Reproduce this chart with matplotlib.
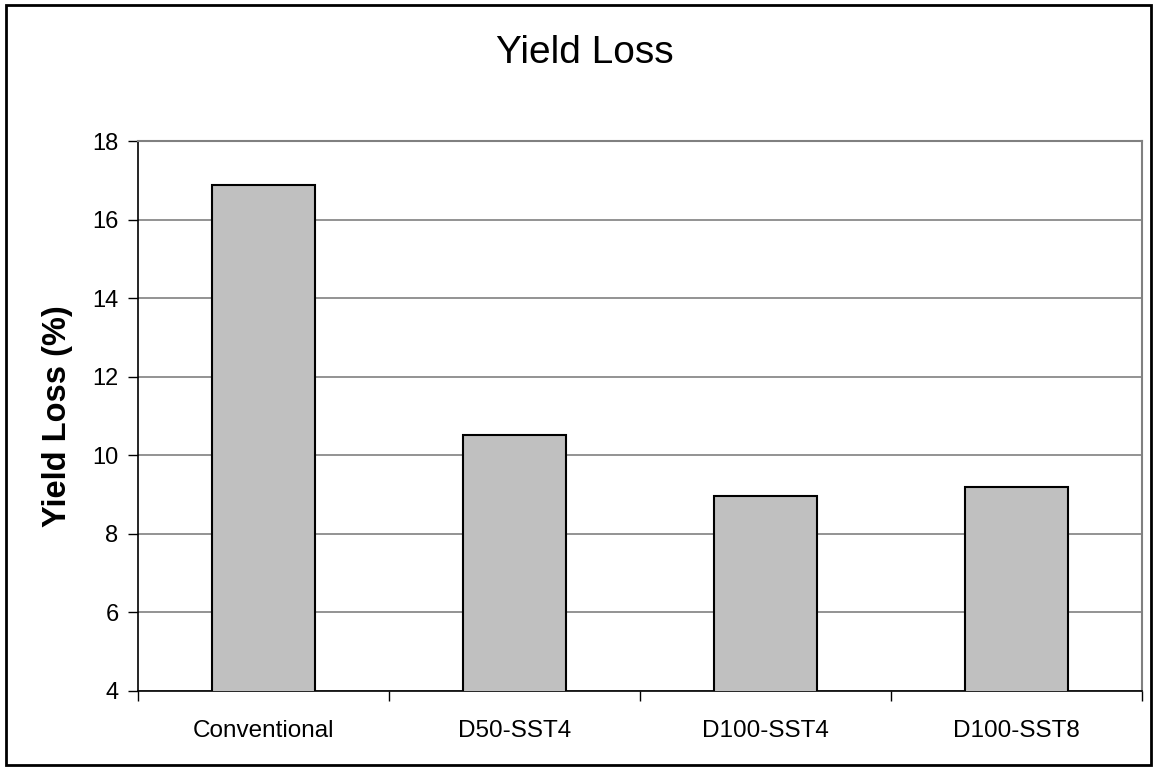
import matplotlib.pyplot as plt
from matplotlib.patches import Rectangle

# Datos
categorias = ["Conventional", "D50-SST4", "D100-SST4", "D100-SST8"]
perdida = [16.87, 10.51, 8.97, 9.18]
ticks_y = [4, 6, 8, 10, 12, 14, 16, 18]

plt.rcParams['font.family'] = ['Liberation Sans', 'DejaVu Sans']

fig = plt.figure(figsize=(11.53, 7.68), dpi=100)
ax = fig.add_axes([0.1197, 0.1003, 0.8708, 0.7161])

x = range(len(categorias))
ax.bar(x, perdida, width=0.41, color='#C0C0C0', edgecolor='black', linewidth=1.5, zorder=3)

ax.set_xlim(-0.5, len(categorias) - 0.5)
ax.set_ylim(4, 18)
ax.set_yticks(ticks_y)
ax.set_yticklabels([str(t) for t in ticks_y], fontsize=17)
ax.yaxis.grid(True, color='#808080', linewidth=1.2, zorder=0)

# Etiquetas del eje x centradas, ticks en los bordes de categoría
ax.set_xticks([i - 0.5 for i in range(len(categorias) + 1)])
ax.set_xticklabels([])
ax.set_xticks(list(x), minor=True)
ax.set_xticklabels(categorias, minor=True, fontsize=17.5)
ax.tick_params(axis='x', which='minor', length=0, pad=21)
ax.tick_params(axis='x', which='major', direction='out', length=7, width=1, color='black')
ax.tick_params(axis='y', direction='out', length=7, width=1, pad=7)

for lado in ['top', 'right']:
    ax.spines[lado].set_color('#808080')
    ax.spines[lado].set_linewidth(1.5)
for lado in ['left', 'bottom']:
    ax.spines[lado].set_color('black')
    ax.spines[lado].set_linewidth(1.2)

ax.set_ylabel("Yield Loss (%)", fontsize=23.5, fontweight='bold', labelpad=14)
fig.text(0.507, 0.931, "Yield Loss", fontsize=28, ha='center', va='center')

# Marco exterior del gráfico
fig.patches.append(Rectangle((0.0055, 0.004), 0.9925, 0.99, transform=fig.transFigure,
                             fill=False, edgecolor='black', linewidth=2))

plt.savefig('out.png', dpi=100)
